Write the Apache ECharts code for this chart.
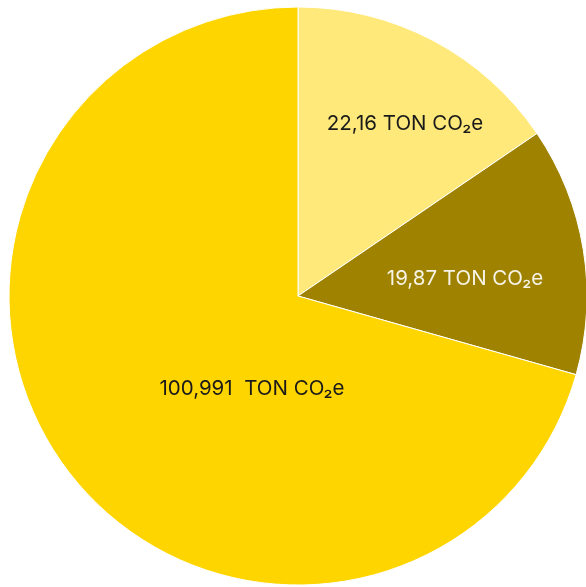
<!DOCTYPE html>
<html><head><meta charset="utf-8">
<script src="https://cdn.jsdelivr.net/npm/echarts@6/dist/echarts.min.js"></script>
<style>html,body{margin:0;padding:0;background:#fff}#c{width:586px;height:587px}</style>
</head><body><div id="c"></div>
<script>
const categories = ['A', 'B', 'C'];
const values = [22.16, 19.87, 100.991];
const labels = ['22,16 TON CO₂e', '19,87 TON CO₂e', '100,991  TON CO₂e'];
const colors = ['#FFE97B', '#9E8200', '#FFD500'];
const labelColors = ['#1a1a1a', '#f7f3e6', '#1a1a1a'];
const labelPos = [[405, 124], [465, 279], [252, 389]];

const chart = echarts.init(document.getElementById('c'));
chart.setOption({
  animation: false,
  series: [{
    type: 'pie',
    center: [298, 296],
    radius: [0, 289],
    startAngle: 90,
    clockwise: true,
    itemStyle: { borderColor: '#fff', borderWidth: 1 },
    label: { show: true, position: 'inside', fontFamily: 'Inter', fontSize: 20.5 },
    labelLine: { show: false },
    labelLayout: function (p) {
      return { x: labelPos[p.dataIndex][0], y: labelPos[p.dataIndex][1], align: 'center', verticalAlign: 'middle' };
    },
    data: categories.map((c, i) => ({
      name: c, value: values[i],
      itemStyle: { color: colors[i] },
      label: { formatter: labels[i], color: labelColors[i] }
    }))
  }]
});
</script></body></html>
